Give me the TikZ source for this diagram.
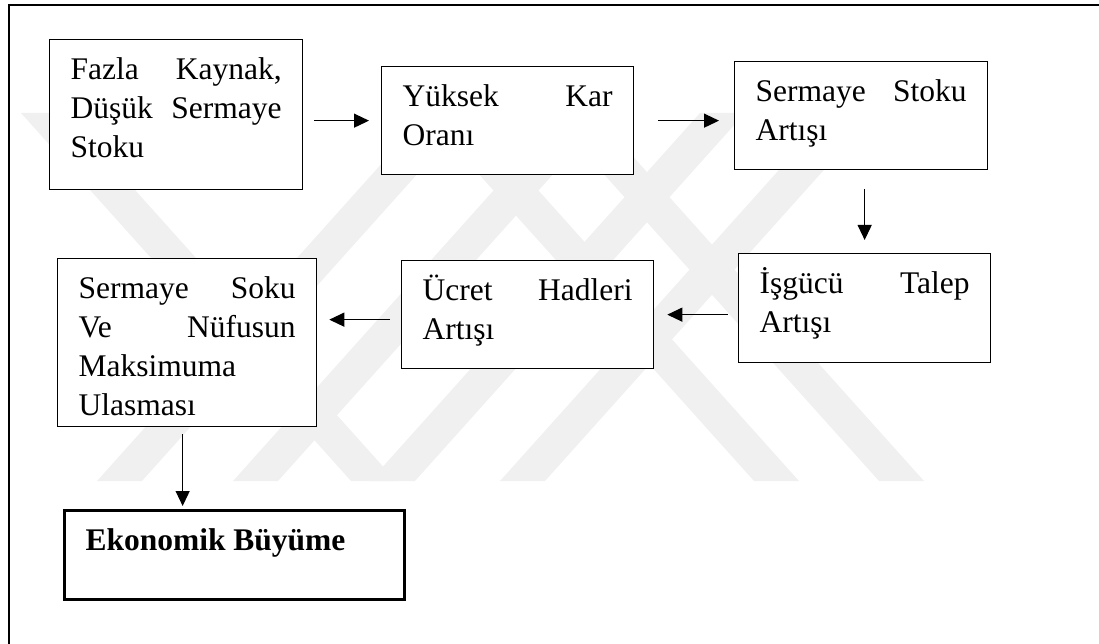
\documentclass[tikz,border=0pt]{standalone}
\usepackage{fontspec}
\setmainfont{Liberation Serif}
\usetikzlibrary{arrows.meta}
\newcommand\bxtext[3]{\parbox[t][#1pt][t]{#2pt}{\rule{0pt}{40pt}#3}}
\newcommand\jl[1]{\makebox[\linewidth][s]{#1}}
\newcommand\wmup[1]{\fill[wm] (#1,481) -- (#1+45,481) -- (#1+375,113) -- (#1+330,113) -- cycle;}
\newcommand\wmdn[1]{\fill[wm] (#1,113) -- (#1+45,113) -- (#1+375,481) -- (#1+330,481) -- cycle;}
\begin{document}
\begin{tikzpicture}[x=1pt,y=-1pt,
  wm/.style={fill=black!6,draw=none},
  box/.style={draw,line width=1.3pt,fill=white,inner xsep=21pt,inner ysep=0pt,
    anchor=north west,font=\fontsize{31.5}{39}\selectfont},
  boldbox/.style={box,line width=3pt},
  arr/.style={-{Triangle[length=15pt,width=14pt]},line width=1.2pt}]
\useasboundingbox (0,0) rectangle (1099,644);
% watermark
\wmup{97}\wmup{233}\wmup{370}\wmup{500}
\wmdn{21}\wmdn{424}\wmdn{549}
% frame
\draw[line width=1.8pt] (9,644) -- (9,5) -- (1099,5);
% boxes
\node[box] (b1) at (49,39) {\bxtext{150}{211}{\jl{Fazla Kaynak,}\\\jl{Düşük Sermaye}\\Stoku}};
\node[box] (b2) at (381,66) {\bxtext{108}{210}{\jl{Yüksek Kar}\\Oranı}};
\node[box] (b3) at (734,61) {\bxtext{108}{211}{\jl{Sermaye Stoku}\\Artışı}};
\node[box] (b4) at (738,253) {\bxtext{109}{210}{\jl{İşgücü Talep}\\Artışı}};
\node[box] (b5) at (401,260) {\bxtext{108}{210}{\jl{Ücret Hadleri}\\Artışı}};
\node[box] (b6) at (57,258) {\bxtext{168}{217}{\jl{Sermaye Soku}\\\jl{Ve Nüfusun}\\Maksimuma\\Ulasması}};
\node[boldbox] (b7) at (63,509) {\bxtext{89}{298}{\textbf{Ekonomik Büyüme}}};
% arrows
\draw[arr,shorten <=11pt,shorten >=12pt] (b1.east |- b2.west) -- (b2.west);
\draw[arr,shorten <=24pt,shorten >=15pt] (b2.east) -- (b2.east -| b3.west);
\draw[arr,shorten <=19pt,shorten >=13pt] (b4.north |- b3.south) -- (b4.north);
\draw[arr,shorten <=10pt,shorten >=13pt] (b4.west |- b5.east) -- (b5.east);
\draw[arr,shorten <=11pt,shorten >=12pt] ([yshift=-5pt]b5.west) -- ([yshift=-5pt]b5.west -| b6.east);
\draw[arr,shorten <=7pt,shorten >=3pt] ([xshift=-4.5pt]b6.south) -- ([xshift=-4.5pt]b6.south |- b7.north);
\end{tikzpicture}
\end{document}
